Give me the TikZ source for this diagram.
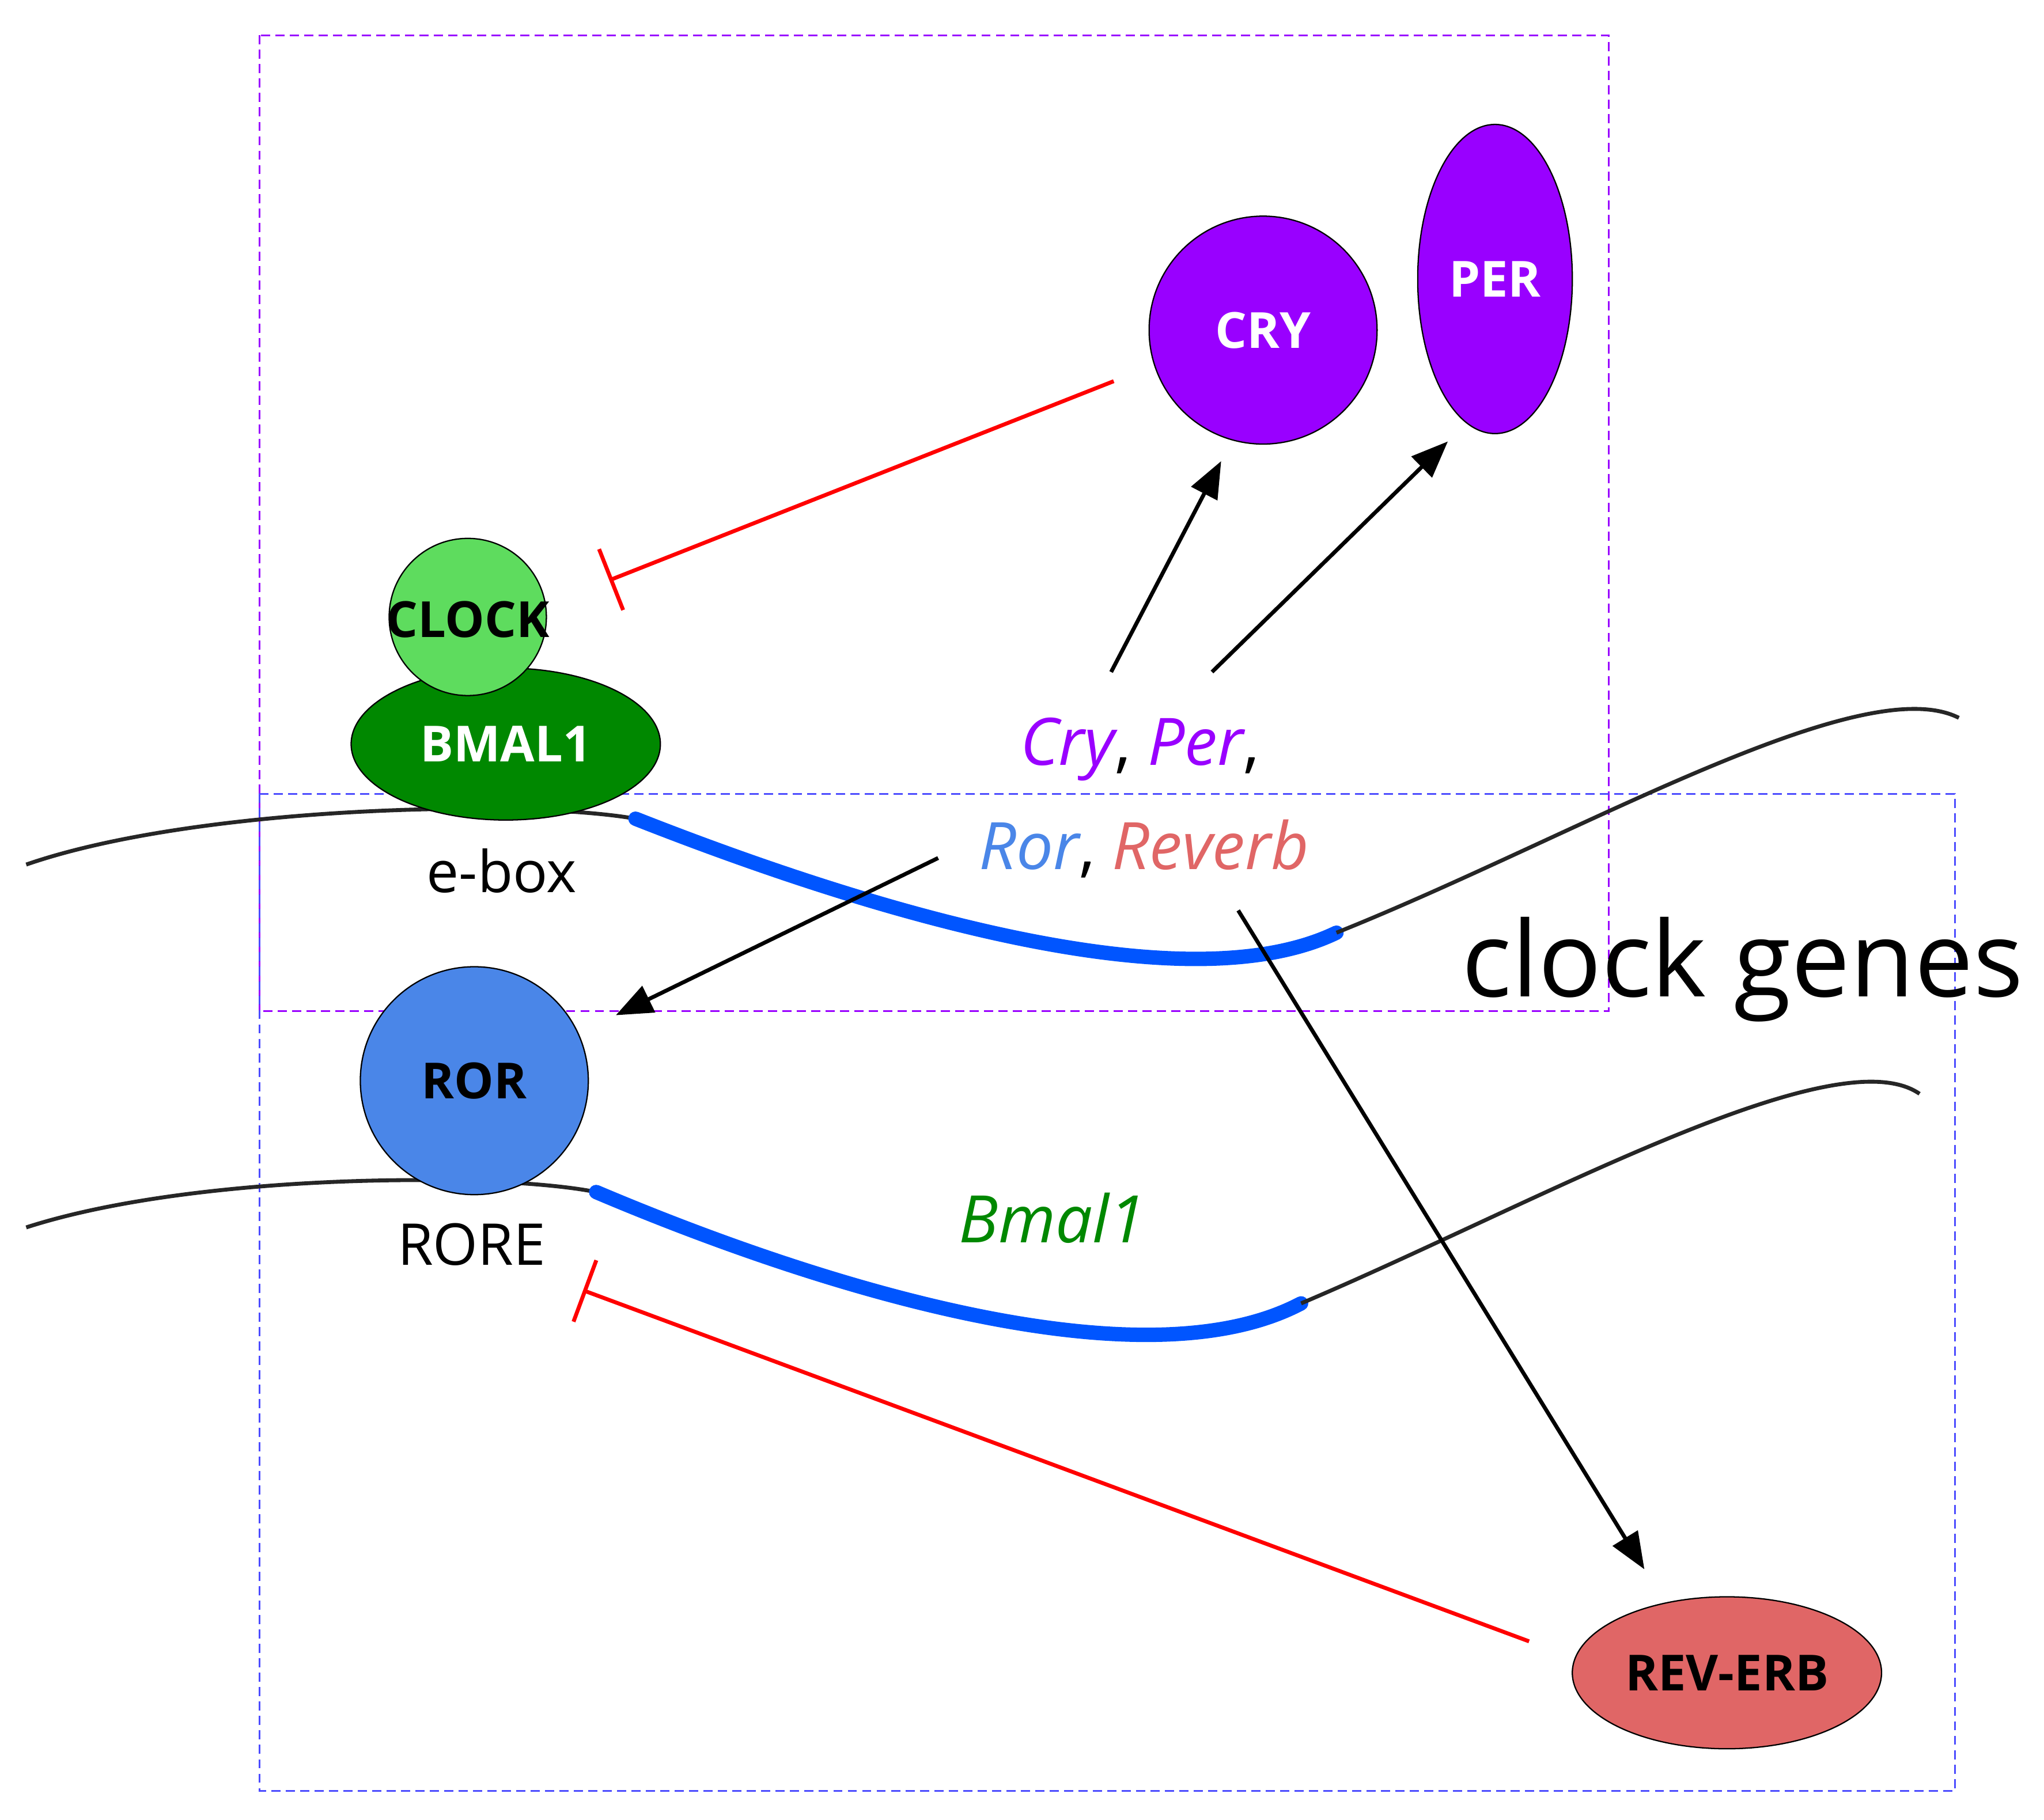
\documentclass[tikz,border=0pt]{standalone}
\usepackage{fontspec}
\setmainfont{Open Sans}
\usetikzlibrary{arrows.meta,shapes.geometric}
\definecolor{purp}{RGB}{153,0,255}
\definecolor{lgreen}{RGB}{94,220,94}
\definecolor{dgreen}{RGB}{0,136,0}
\definecolor{rorblue}{RGB}{74,134,232}
\definecolor{revred}{RGB}{224,102,102}
\definecolor{dnablue}{RGB}{0,85,255}
\tikzset{
  prot/.style={draw=black,line width=1pt,font=\fontsize{38}{38}\selectfont\bfseries},
  act/.style={-{Triangle[length=28pt,width=22pt]},line width=3pt},
  inh/.style={-{Bar[width=50pt]},red,line width=3pt},
  dna/.style={line width=3pt,black!85},
  gene/.style={line width=11pt,dnablue,line cap=round},
  lbl/.style={font=\fontsize{44}{44}\selectfont},
  box/.style={dash pattern=on 7pt off 4pt,line width=1.3pt},
}
\begin{document}
\begin{tikzpicture}[x=1pt,y=1pt,yscale=-1]
\useasboundingbox (0,0) rectangle (1560,1389);

%boxes
\draw[box,purp] (198,27) rectangle (1228,772);
\draw[box,blue!70] (198,606) rectangle (1492,1367);

%dna strands
\draw[dna] (20,660) .. controls (150,615) and (400,610) .. (485,625);
\draw[gene] (485,625) .. controls (650,690) and (900,770) .. (1020,712);
\draw[dna] (1020,712) .. controls (1200,640) and (1420,510) .. (1495,548);
\draw[dna] (20,937) .. controls (150,895) and (380,895) .. (455,910);
\draw[gene] (455,910) .. controls (620,980) and (870,1060) .. (993,995);
\draw[dna] (993,995) .. controls (1170,920) and (1400,790) .. (1465,835);

%proteins
\node[prot,circle,fill=purp,text=white,minimum size=174pt] (cry) at (964,252) {CRY};
\node[prot,ellipse,fill=purp,text=white,minimum width=118pt,minimum height=236pt] (per) at (1141,213) {PER};
\node[prot,ellipse,fill=dgreen,text=white,minimum width=236pt,minimum height=116pt] (bmal) at (386,568) {BMAL1};
\node[prot,circle,fill=lgreen,minimum size=120pt] (clk) at (357,471) {};
\node[prot,draw=none] at (357,473) {CLOCK};
\node[prot,circle,fill=rorblue,minimum size=174pt] (ror) at (362,825) {ROR};
\node[prot,ellipse,fill=revred,minimum width=236pt,minimum height=116pt] (rev) at (1318,1277) {REV-ERB};

%labels
\node[lbl] (ebox) at (383,665) {e-box};
\node[lbl] (rore) at (360,950) {RORE};
\node[dgreen,font=\fontsize{50}{50}\selectfont\itshape] (bm) at (803,930) {Bmal1};
\node[font=\fontsize{50}{50}\selectfont] (cp) at (870,572) {\textcolor{purp}{\itshape Cry}, \textcolor{purp}{\itshape Per},};
\node[font=\fontsize{50}{50}\selectfont] (rr) at (873,648) {\textcolor{rorblue}{\itshape Ror}, \textcolor{revred}{\itshape Reverb}};
\node[font=\fontsize{80}{80}\selectfont] (cg) at (1330,740) {clock genes};

%connectors
\coordinate (a1) at (848,513); \coordinate (a2) at (925,513);
\coordinate (a3) at (716,655); \coordinate (a4) at (945,695);
\coordinate (cryt) at (932,352); \coordinate (pert) at (1105,337);
\coordinate (rort) at (470,775); \coordinate (revt) at (1255,1198);
\draw[act] (a1) -- (cryt);
\draw[act] (a2) -- (pert);
\draw[act] (a3) -- (rort);
\draw[act] (a4) -- (revt);
\coordinate (i1) at (850,291); \coordinate (clkt) at (465,443);
\coordinate (i2) at (1167,1253); \coordinate (roret) at (445,985);
\draw[inh] (i1) -- (clkt);
\draw[inh] (i2) -- (roret);
\end{tikzpicture}
\end{document}
